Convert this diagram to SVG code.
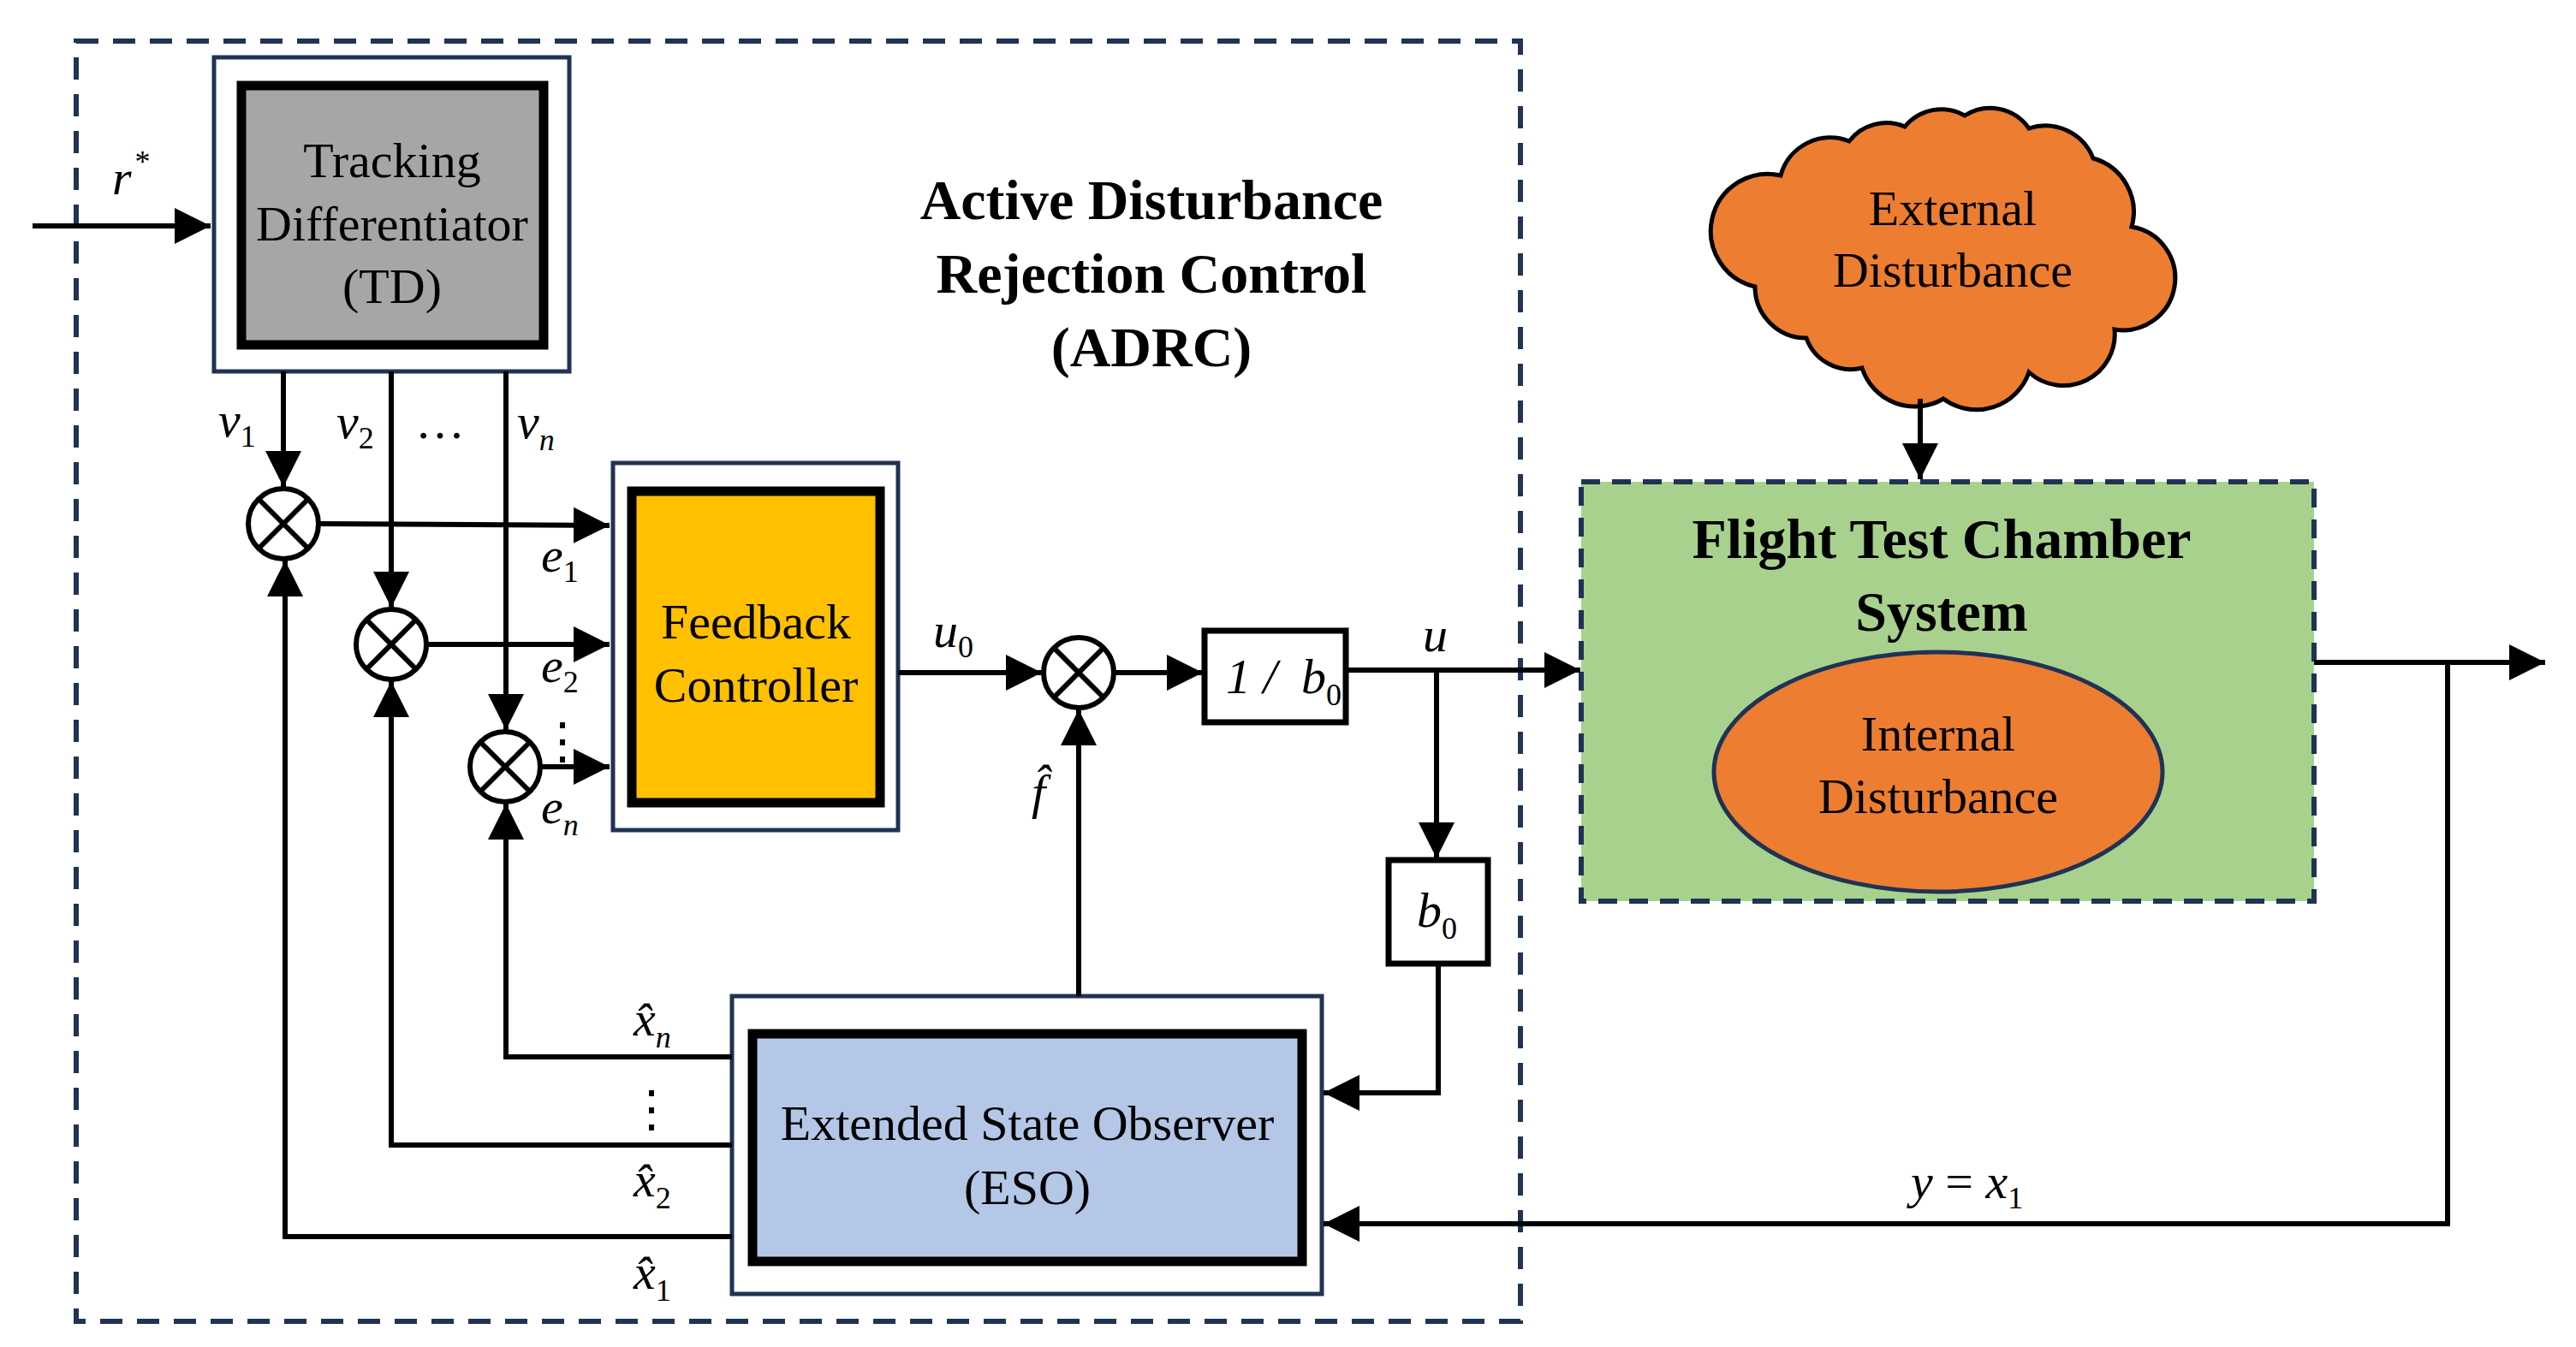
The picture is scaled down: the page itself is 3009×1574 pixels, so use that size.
<svg xmlns="http://www.w3.org/2000/svg" width="3009" height="1574" viewBox="0 0 3009 1574">
<defs>
<marker id="ah" viewBox="0 0 10 10" refX="10" refY="5" markerWidth="7" markerHeight="7" markerUnits="strokeWidth" orient="auto"><path d="M0,0 L10,5 L0,10 z" fill="#000"/></marker>
<marker id="ah2" viewBox="0 0 10 10" refX="10" refY="5" markerWidth="5" markerHeight="5" markerUnits="strokeWidth" orient="auto"><path d="M0,0 L10,5 L0,10 z" fill="#000"/></marker>
</defs>
<style>
.t{font-family:"Liberation Serif","Times New Roman",serif;font-size:58px;text-anchor:middle;fill:#000}
.b{font-family:"Liberation Serif","Times New Roman",serif;font-weight:bold;text-anchor:middle;fill:#000}
.m{font-family:"Liberation Serif","Times New Roman",serif;font-style:italic;font-size:58px;fill:#000}
.s{font-size:36px;font-style:normal}
.si{font-size:36px}
.ln{fill:none;stroke:#000;stroke-width:6}
.ar{fill:none;stroke:#000;stroke-width:6;marker-end:url(#ah)}
.out{fill:#fff;stroke:#1f3354;stroke-width:5}
.in{stroke:#000;stroke-width:11}
.sum{fill:#fff;stroke:#000;stroke-width:6}
</style>
<rect x="0" y="0" width="3009" height="1574" fill="#fff"/>
<rect id="adrc" x="89" y="48" width="1687" height="1496" fill="none" stroke="#1f3354" stroke-width="6" stroke-dasharray="26,17"/>
<g id="adrc-title">
<text class="b" x="1345" y="256" font-size="66">Active Disturbance</text>
<text class="b" x="1345" y="342" font-size="66">Rejection Control</text>
<text class="b" x="1345" y="428" font-size="66">(ADRC)</text>
</g>
<g id="td">
<rect class="out" x="250" y="67" width="415" height="367"/>
<rect class="in" x="282" y="100" width="353" height="303" fill="#a6a6a6"/>
<text class="t" x="458" y="207">Tracking</text>
<text class="t" x="458" y="281">Differentiator</text>
<text class="t" x="458" y="354">(TD)</text>
</g>
<g id="fb">
<rect class="out" x="716" y="541" width="333" height="429"/>
<rect class="in" x="738" y="574" width="290" height="364" fill="#ffc000"/>
<text class="t" x="883" y="746">Feedback</text>
<text class="t" x="883" y="820">Controller</text>
</g>
<g id="eso">
<rect class="out" x="855" y="1164" width="689" height="348"/>
<rect class="in" x="879" y="1208" width="642" height="266" fill="#b4c7e7"/>
<text class="t" x="1200" y="1332">Extended State Observer</text>
<text class="t" x="1200" y="1407">(ESO)</text>
</g>
<g id="gain1">
<rect x="1407" y="737" width="165" height="107" fill="#fff" stroke="#000" stroke-width="7"/>
<text class="m" x="1432" y="810" font-style="normal">1 / </text><text class="m" x="1520" y="810">b<tspan class="s" dy="14">0</tspan></text>
</g>
<g id="gain2">
<rect x="1622" y="1005" width="116" height="121" fill="#fff" stroke="#000" stroke-width="7"/>
<text class="m" x="1655" y="1083">b<tspan class="s" dy="14">0</tspan></text>
</g>
<g id="plant">
<rect x="1847" y="563" width="856" height="490" fill="#a9d18e" stroke="#1f3354" stroke-width="6" stroke-dasharray="22,14"/>
<text class="b" x="2268" y="652" font-size="66">Flight Test Chamber</text>
<text class="b" x="2268" y="737" font-size="66">System</text>
<ellipse cx="2264" cy="902" rx="262" ry="140" fill="#ed7d31" stroke="#1f3354" stroke-width="5"/>
<text class="t" x="2264" y="877">Internal</text>
<text class="t" x="2264" y="950">Disturbance</text>
</g>
<g id="cloud">
<path d="M2080,205 A60,60 0 0 1 2160,165 A55,55 0 0 1 2225,148 A55,55 0 0 1 2295,135 A55,55 0 0 1 2370,150 A60,60 0 0 1 2445,185 A65,65 0 0 1 2490,265 A60,60 0 0 1 2470,385 A60,60 0 0 1 2370,435 A65,65 0 0 1 2270,466 A65,65 0 0 1 2175,430 A55,55 0 0 1 2110,395 A60,60 0 0 1 2050,335 A55,55 0 0 1 2080,205 z" fill="#ed7d31" stroke="#000" stroke-width="5"/>
<text class="t" x="2281" y="263">External</text>
<text class="t" x="2281" y="335">Disturbance</text>
</g>
<g id="sums">
<g id="s1"><circle class="sum" cx="331" cy="612" r="41"/><path class="ln" d="M302,583 L360,641 M360,583 L302,641"/></g>
<g id="s2"><circle class="sum" cx="457" cy="753" r="41"/><path class="ln" d="M428,724 L486,782 M486,724 L428,782"/></g>
<g id="s3"><circle class="sum" cx="590" cy="896" r="41"/><path class="ln" d="M561,867 L619,925 M619,867 L561,925"/></g>
<g id="s4"><circle class="sum" cx="1260" cy="786" r="41"/><path class="ln" d="M1231,757 L1289,815 M1289,757 L1231,815"/></g>
</g>
<g id="connectors">
<line class="ar" x1="38" y1="264" x2="246" y2="264"/>
<line class="ar" x1="331" y1="434" x2="331" y2="569"/>
<line class="ar" x1="457" y1="434" x2="457" y2="710"/>
<line class="ar" x1="591" y1="434" x2="591" y2="853"/>
<line class="ar" x1="372" y1="612" x2="712" y2="614"/>
<line class="ar" x1="498" y1="753" x2="712" y2="753"/>
<line class="ar" x1="631" y1="896" x2="712" y2="896"/>
<line class="ar" x1="1049" y1="786" x2="1217" y2="786"/>
<line class="ar" x1="1301" y1="786" x2="1405" y2="786"/>
<line class="ar" x1="1572" y1="783" x2="1846" y2="783"/>
<line class="ar" x1="1678" y1="783" x2="1678" y2="1003"/>
<polyline class="ar" points="1680,1126 1680,1277 1546,1277"/>
<line class="ar" x1="1260" y1="1164" x2="1260" y2="829"/>
<polyline class="ar" points="855,1235 591,1235 591,939"/>
<polyline class="ar" points="855,1338 457,1338 457,796"/>
<polyline class="ar" points="855,1445 333,1445 333,655"/>
<line class="ar" x1="2243" y1="466" x2="2243" y2="560"/>
<line class="ar" x1="2703" y1="774" x2="2973" y2="774"/>
<polyline class="ar" points="2859,774 2859,1430 1546,1430"/>
</g>
<g id="labels">
<text class="m" x="131" y="227">r<tspan class="s" dy="-26" dx="4">*</tspan></text>
<text class="m" x="255" y="510">v<tspan class="s" dy="12">1</tspan></text>
<text class="m" x="393" y="512">v<tspan class="s" dy="12">2</tspan></text>
<text class="t" x="514" y="512">…</text>
<text class="m" x="604" y="512">v<tspan class="si" dy="14">n</tspan></text>
<text class="m" x="632" y="668">e<tspan class="s" dy="12">1</tspan></text>
<text class="m" x="632" y="797">e<tspan class="s" dy="12">2</tspan></text>
<text class="t" x="657" y="886">⋮</text>
<text class="m" x="632" y="962">e<tspan class="si" dy="14">n</tspan></text>
<text class="m" x="1090" y="756">u<tspan class="s" dy="12">0</tspan></text>
<text class="m" x="1662" y="761">u</text>
<text class="m" x="1205" y="945">f̂</text>
<text class="m" x="740" y="1210">x̂<tspan class="si" dy="14">n</tspan></text>
<text class="t" x="761" y="1316">⋮</text>
<text class="m" x="740" y="1398">x̂<tspan class="s" dy="14">2</tspan></text>
<text class="m" x="740" y="1506">x̂<tspan class="s" dy="14">1</tspan></text>
<text class="m" x="2232" y="1400">y <tspan font-style="normal">=</tspan> x<tspan class="s" dy="12">1</tspan></text>
</g>
</svg>
